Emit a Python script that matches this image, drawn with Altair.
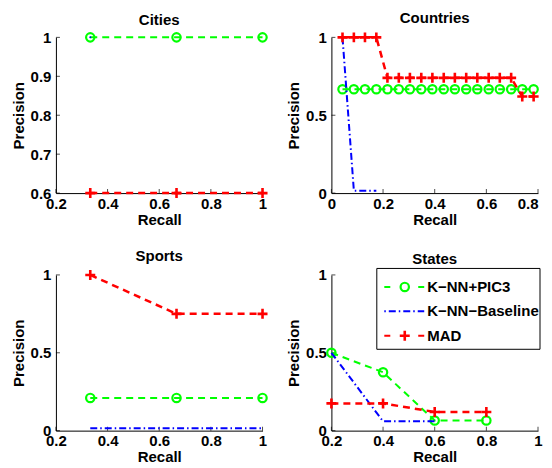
import altair as alt
import pandas as pd

FONT = "Liberation Sans"
W, H = 207, 156

GREEN, BLUE, RED = "#00ff00", "#0000ff", "#ff0000"
DASH = [7, 5]
DASHDOT = [7, 3, 1.5, 3]
PLUS = "M-1,0H1M0,-1V1"

# ---- data ----
cities_recall = [0.333, 0.667, 1.0]
cities_pic3 = [1.0, 1.0, 1.0]
cities_base = [1.0]
cities_mad = [0.6, 0.6, 0.6]

countries_recall = [0.043, 0.087, 0.130, 0.174, 0.217, 0.261, 0.304, 0.348, 0.391,
                    0.435, 0.478, 0.522, 0.565, 0.609, 0.652, 0.696, 0.739, 0.783]
countries_pic3 = [0.667, 0.667, 0.667, 0.667, 0.667, 0.667, 0.667, 0.667, 0.667,
                  0.667, 0.667, 0.667, 0.667, 0.667, 0.667, 0.667, 0.667, 0.667]
countries_base = [1.0, 0.015, 0.015, 0.015]
countries_mad = [1.0, 1.0, 1.0, 1.0, 0.74, 0.74, 0.74, 0.74, 0.74,
                 0.74, 0.74, 0.74, 0.74, 0.74, 0.74, 0.74, 0.62, 0.62]

sports_recall = [0.333, 0.667, 1.0]
sports_pic3 = [0.21, 0.21, 0.21]
sports_base = [0.015, 0.015, 0.015]
sports_mad = [1.0, 0.75, 0.75]

states_recall = [0.2, 0.4, 0.6, 0.8]
states_pic3 = [0.5, 0.375, 0.065, 0.065]
states_base = [0.5, 0.06, 0.06]
states_mad = [0.175, 0.175, 0.12, 0.12]

legend_labels = ["K\u2212NN+PIC3", "K\u2212NN\u2212Baseline", "MAD"]

x_ticks_a = [0.2, 0.4, 0.6, 0.8, 1.0]
x_ticks_b = [0, 0.2, 0.4, 0.6, 0.8]
y_ticks_cities = [0.6, 0.7, 0.8, 0.9, 1.0]
y_ticks_std = [0, 0.5, 1.0]


def panel(title, recall, series, xdom, xticks, ydom, yticks, legend=False, flush_last=False):
    xaxis_kw = dict(values=xticks, title="Recall", format="~g", labelPadding=3, titlePadding=1)
    if flush_last:
        xaxis_kw["labelAlign"] = {"condition": {"test": "datum.value >= %g" % (xdom[1] - 0.01),
                                                "value": "right"}, "value": "center"}
    x_enc = alt.X("r:Q", scale=alt.Scale(domain=xdom, nice=False, zero=False),
                  axis=alt.Axis(**xaxis_kw))
    y_enc = alt.Y("p:Q", scale=alt.Scale(domain=ydom, nice=False, zero=False),
                  axis=alt.Axis(values=yticks, title="Precision", format="~g",
                                labelPadding=5, titlePadding=4))
    layers = []
    # inward ticks
    layers.append(alt.Chart(pd.DataFrame({"r": xticks})).mark_tick(
        orient="vertical", size=4, thickness=1, color="black", yOffset=-2
    ).encode(x=x_enc, y=alt.value(H)))
    layers.append(alt.Chart(pd.DataFrame({"p": yticks})).mark_tick(
        orient="horizontal", size=4, thickness=1, color="black", xOffset=2
    ).encode(y=y_enc, x=alt.value(0)))
    for vals, color, dash, marker, lw in series:
        df = pd.DataFrame({"r": recall[:len(vals)], "p": vals})
        base = alt.Chart(df)
        if len(vals) > 1:
            layers.append(base.mark_line(color=color, strokeDash=dash, strokeWidth=lw)
                          .encode(x=x_enc, y=y_enc))
        if marker == "o":
            layers.append(base.mark_point(shape="circle", filled=False, color=color,
                                          size=70, strokeWidth=2.2, opacity=1)
                          .encode(x=x_enc, y=y_enc))
        elif marker == "+":
            layers.append(base.mark_point(shape=PLUS, filled=False, color=color,
                                          size=100, strokeWidth=2.6, opacity=1)
                          .encode(x=x_enc, y=y_enc))
        elif marker == ".":
            layers.append(base.mark_point(shape="circle", filled=True, color=color,
                                          size=4, opacity=1)
                          .encode(x=x_enc, y=y_enc))
    if legend:
        one = pd.DataFrame({"a": [0]})
        layers.append(alt.Chart(one).mark_rect(fill="white", stroke="black", strokeWidth=1)
                      .encode(x=alt.value(45.5), x2=alt.value(209), y=alt.value(-6.5), y2=alt.value(74.5)))
        rows = [12, 36.5, 61]
        specs = [(GREEN, [6, 28], "o"), (BLUE, [1.5, 3, 7, 3], None), (RED, [6, 28], "+")]
        for lab, yy, (c, d, m) in zip(legend_labels, rows, specs):
            layers.append(alt.Chart(one).mark_rule(color=c, strokeDash=d, strokeWidth=2)
                          .encode(x=alt.value(53), x2=alt.value(93), y=alt.value(yy)))
            if m == "o":
                layers.append(alt.Chart(one).mark_point(shape="circle", filled=False, color=c,
                                                        size=70, strokeWidth=2.2, opacity=1)
                              .encode(x=alt.value(73.5), y=alt.value(yy)))
            elif m == "+":
                layers.append(alt.Chart(one).mark_point(shape=PLUS, filled=False, color=c,
                                                        size=100, strokeWidth=2.6, opacity=1)
                              .encode(x=alt.value(73.5), y=alt.value(yy)))
            layers.append(alt.Chart(pd.DataFrame({"t": [lab]})).mark_text(
                align="left", baseline="middle", font=FONT, fontSize=15, fontWeight="bold",
                color="black").encode(x=alt.value(96), y=alt.value(yy), text="t:N"))
    return alt.layer(*layers).properties(
        width=W, height=H,
        title=alt.TitleParams(title, font=FONT, fontSize=15, fontWeight="bold", color="black", offset=1))


c1 = panel("Cities", cities_recall,
           [(cities_pic3, GREEN, DASH, "o", 2), (cities_base, BLUE, DASHDOT, ".", 2),
            (cities_mad, RED, DASH, "+", 2.5)],
           [0.2, 1.0], x_ticks_a, [0.6, 1.0], y_ticks_cities)
c2 = panel("Countries", countries_recall,
           [(countries_pic3, GREEN, DASH, "o", 2), (countries_base, BLUE, DASHDOT, None, 2),
            (countries_mad, RED, DASH, "+", 2.5)],
           [0, 0.8], x_ticks_b, [0, 1.0], y_ticks_std, flush_last=True)
c3 = panel("Sports", sports_recall,
           [(sports_pic3, GREEN, DASH, "o", 2), (sports_base, BLUE, DASHDOT, None, 2),
            (sports_mad, RED, DASH, "+", 2.5)],
           [0.2, 1.0], x_ticks_a, [0, 1.0], y_ticks_std)
c4 = panel("States", states_recall,
           [(states_pic3, GREEN, DASH, "o", 2), (states_base, BLUE, DASHDOT, None, 2),
            (states_mad, RED, DASH, "+", 2.5)],
           [0.2, 1.0], x_ticks_a, [0, 1.0], y_ticks_std, legend=True)

chart = alt.concat(c1, c2, c3, c4, columns=2, bounds="flush",
                   spacing={"row": 82, "column": 69}).properties(
    padding={"left": 3, "top": 2, "right": 0, "bottom": 0}
).configure_axis(
    labelFont=FONT, labelFontSize=15, labelFontWeight="bold", labelColor="black",
    titleFont=FONT, titleFontSize=15, titleFontWeight="bold", titleColor="black",
    domainColor="black", domainWidth=1, ticks=False, grid=False,
    labelFlush=False, labelOverlap=False
).configure_view(stroke=None)

chart.save("out.html", embed_options={"renderer": "svg", "actions": False})
